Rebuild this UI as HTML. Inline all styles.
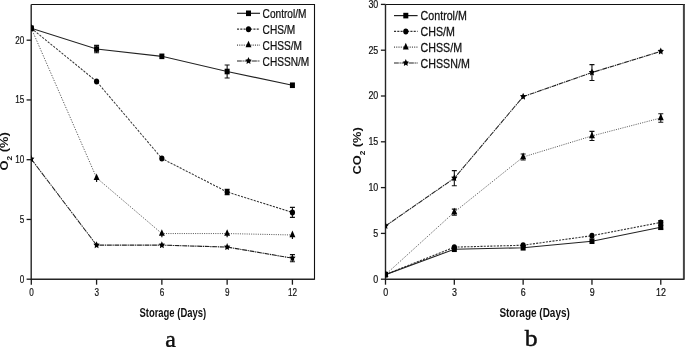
<!DOCTYPE html>
<html><head><meta charset="utf-8"><style>
html,body{margin:0;padding:0;background:#fff;}
body{width:685px;height:347px;overflow:hidden;}
svg{display:block;filter:grayscale(1);font-family:"Liberation Sans",sans-serif;fill:#000;}
text{fill:#111;}
</style></head><body>
<svg width="685" height="347" viewBox="0 0 685 347">
<rect width="685" height="347" fill="#fff"/>
<clipPath id="cl"><rect x="31.2" y="4.5" width="283.3" height="274.7"/></clipPath>
<path d="M31.2 4.5H315.05" fill="none" stroke="#111" stroke-width="1.1"/>
<path d="M314.5 4.5V279.8" fill="none" stroke="#111" stroke-width="1.1"/>
<path d="M31.2 4.5V279.2H314.5" fill="none" stroke="#252525" stroke-width="1.4"/>
<path d="M26.6 279.2H31.2" stroke="#1a1a1a" stroke-width="1.3"/>
<path d="M26.6 219.45H31.2" stroke="#1a1a1a" stroke-width="1.3"/>
<path d="M26.6 159.7H31.2" stroke="#1a1a1a" stroke-width="1.3"/>
<path d="M26.6 99.95H31.2" stroke="#1a1a1a" stroke-width="1.3"/>
<path d="M26.6 40.2H31.2" stroke="#1a1a1a" stroke-width="1.3"/>
<path d="M31.3 279.2V284.7" stroke="#1a1a1a" stroke-width="1.3"/>
<path d="M96.58 279.2V284.7" stroke="#1a1a1a" stroke-width="1.3"/>
<path d="M161.86 279.2V284.7" stroke="#1a1a1a" stroke-width="1.3"/>
<path d="M227.14 279.2V284.7" stroke="#1a1a1a" stroke-width="1.3"/>
<path d="M292.42 279.2V284.7" stroke="#1a1a1a" stroke-width="1.3"/>
<text transform="translate(24.4 282.5) scale(0.77 1)" text-anchor="end" font-size="10.6" stroke="#111" stroke-width="0.2">0</text>
<text transform="translate(24.4 222.75) scale(0.77 1)" text-anchor="end" font-size="10.6" stroke="#111" stroke-width="0.2">5</text>
<text transform="translate(24.4 163) scale(0.77 1)" text-anchor="end" font-size="10.6" stroke="#111" stroke-width="0.2">10</text>
<text transform="translate(24.4 103.25) scale(0.77 1)" text-anchor="end" font-size="10.6" stroke="#111" stroke-width="0.2">15</text>
<text transform="translate(24.4 43.5) scale(0.77 1)" text-anchor="end" font-size="10.6" stroke="#111" stroke-width="0.2">20</text>
<text transform="translate(31.5 296.3) scale(0.77 1)" text-anchor="middle" font-size="10.6" stroke="#111" stroke-width="0.2">0</text>
<text transform="translate(96.78 296.3) scale(0.77 1)" text-anchor="middle" font-size="10.6" stroke="#111" stroke-width="0.2">3</text>
<text transform="translate(162.06 296.3) scale(0.77 1)" text-anchor="middle" font-size="10.6" stroke="#111" stroke-width="0.2">6</text>
<text transform="translate(227.34 296.3) scale(0.77 1)" text-anchor="middle" font-size="10.6" stroke="#111" stroke-width="0.2">9</text>
<text transform="translate(292.62 296.3) scale(0.77 1)" text-anchor="middle" font-size="10.6" stroke="#111" stroke-width="0.2">12</text>
<g clip-path="url(#cl)">
<polyline transform="scale(0.8 1)" points="39.12,159.1 120.72,245.14 202.33,245.14 283.93,247.05 365.52,258.17" fill="none" stroke="#222" stroke-width="1.15" stroke-dasharray="6 0.9 1.6 0.9"/>
<polyline transform="scale(0.8 1)" points="39.12,28.25 120.72,177.86 202.33,233.55 283.93,233.55 365.52,234.98" fill="none" stroke="#4a4a4a" stroke-width="1.0" stroke-dasharray="1.3 1.5"/>
<polyline transform="scale(0.8 1)" points="39.12,28.25 120.72,81.43 202.33,158.5 283.93,191.96 365.52,212.4" fill="none" stroke="#333" stroke-width="1.1" stroke-dasharray="2.6 1.5"/>
<polyline transform="scale(0.8 1)" points="39.12,28.25 120.72,49.04 202.33,56.33 283.93,71.51 365.52,85.25" fill="none" stroke="#222" stroke-width="1.1"/>
<polygon points="31.3,155.1 32.27,157.42 34.45,157.8 32.88,159.61 33.25,162.16 31.3,160.95 29.35,162.16 29.72,159.61 28.15,157.8 30.33,157.42" fill="#000"/>
<polygon points="96.58,241.14 97.55,243.46 99.73,243.84 98.16,245.65 98.53,248.2 96.58,246.99 94.63,248.2 95,245.65 93.43,243.84 95.61,243.46" fill="#000"/>
<polygon points="161.86,241.14 162.83,243.46 165.01,243.84 163.44,245.65 163.81,248.2 161.86,246.99 159.91,248.2 160.28,245.65 158.71,243.84 160.89,243.46" fill="#000"/>
<polygon points="227.14,243.05 228.11,245.38 230.29,245.75 228.72,247.56 229.09,250.11 227.14,248.9 225.19,250.11 225.56,247.56 223.99,245.75 226.17,245.38" fill="#000"/>
<path d="M292.42 254.58V261.75M289.92 254.58H294.92M289.92 261.75H294.92" stroke="#111" stroke-width="1.1" fill="none"/>
<polygon points="292.42,254.17 293.39,256.49 295.57,256.86 294,258.67 294.37,261.22 292.42,260.02 290.47,261.22 290.84,258.67 289.27,256.86 291.45,256.49" fill="#000"/>
<path d="M31.3 23.85L34.25 30.45H28.35Z" fill="#000"/>
<path d="M96.58 177.86V181.93" stroke="#111" stroke-width="1.2" fill="none"/>
<path d="M96.58 173.46L99.53 180.06H93.63Z" fill="#000"/>
<path d="M161.86 233.55V237.14" stroke="#111" stroke-width="1.2" fill="none"/>
<path d="M161.86 229.15L164.81 235.75H158.91Z" fill="#000"/>
<path d="M227.14 233.55V237.14" stroke="#111" stroke-width="1.2" fill="none"/>
<path d="M227.14 229.15L230.09 235.75H224.19Z" fill="#000"/>
<path d="M292.42 234.98V238.93" stroke="#111" stroke-width="1.2" fill="none"/>
<path d="M292.42 230.58L295.37 237.18H289.47Z" fill="#000"/>
<ellipse cx="31.3" cy="28.25" rx="2.6" ry="3" fill="#000"/>
<ellipse cx="96.58" cy="81.43" rx="2.6" ry="3" fill="#000"/>
<ellipse cx="161.86" cy="158.5" rx="2.6" ry="3" fill="#000"/>
<path d="M227.14 189.34V194.59M224.64 189.34H229.64M224.64 194.59H229.64" stroke="#111" stroke-width="1.1" fill="none"/>
<ellipse cx="227.14" cy="191.96" rx="2.6" ry="3" fill="#000"/>
<path d="M292.42 207.38V217.42M289.92 207.38H294.92M289.92 217.42H294.92" stroke="#111" stroke-width="1.1" fill="none"/>
<ellipse cx="292.42" cy="212.4" rx="2.6" ry="3" fill="#000"/>
<rect x="28.8" y="25.45" width="5" height="5.6" fill="#000"/>
<path d="M96.58 45.34V52.75M94.08 45.34H99.08M94.08 52.75H99.08" stroke="#111" stroke-width="1.1" fill="none"/>
<rect x="94.08" y="46.24" width="5" height="5.6" fill="#000"/>
<rect x="159.36" y="53.53" width="5" height="5.6" fill="#000"/>
<path d="M227.14 65.06V77.96M224.64 65.06H229.64M224.64 77.96H229.64" stroke="#111" stroke-width="1.1" fill="none"/>
<rect x="224.64" y="68.71" width="5" height="5.6" fill="#000"/>
<rect x="289.92" y="82.45" width="5" height="5.6" fill="#000"/>
</g>
<path transform="scale(0.8 1)" d="M296.25 13.3H325" stroke="#222" stroke-width="1.2"/>
<rect x="246" y="10.5" width="5" height="5.6" fill="#000"/>
<text transform="translate(262.6 17.8) scale(0.83 1)" font-size="12.2" stroke="#111" stroke-width="0.25">Control/M</text>
<path transform="scale(0.8 1)" d="M296.25 29.2H325" stroke="#333" stroke-width="1.2" stroke-dasharray="2.6 1.5"/>
<ellipse cx="248.5" cy="29.2" rx="2.6" ry="3" fill="#000"/>
<text transform="translate(262.6 33.7) scale(0.83 1)" font-size="12.2" stroke="#111" stroke-width="0.25">CHS/M</text>
<path transform="scale(0.8 1)" d="M296.25 45.1H325" stroke="#4a4a4a" stroke-width="1.2" stroke-dasharray="1.3 1.5"/>
<path d="M248.5 40.7L251.45 47.3H245.55Z" fill="#000"/>
<text transform="translate(262.6 49.6) scale(0.83 1)" font-size="12.2" stroke="#111" stroke-width="0.25">CHSS/M</text>
<path transform="scale(0.8 1)" d="M296.25 61H325" stroke="#222" stroke-width="1.2" stroke-dasharray="6 0.9 1.6 0.9"/>
<polygon points="248.5,57 249.47,59.32 251.65,59.69 250.08,61.5 250.45,64.06 248.5,62.85 246.55,64.06 246.92,61.5 245.35,59.69 247.53,59.32" fill="#000"/>
<text transform="translate(262.6 65.5) scale(0.83 1)" font-size="12.2" stroke="#111" stroke-width="0.25">CHSSN/M</text>
<text transform="translate(172.8 316.7) scale(0.752 1)" font-size="12.6" font-weight="bold" text-anchor="middle">Storage (Days)</text>
<text transform="translate(7.8 170.4) rotate(-90) scale(1.12 1)" font-size="11.5" font-weight="bold">O<tspan font-size="7.3" dy="4.2">2</tspan><tspan dy="-4.2"> (%)</tspan></text>
<text transform="translate(170.6 346.8) scale(1.03 1)" font-family="Liberation Serif, serif" font-size="23.2" text-anchor="middle" stroke="#000" stroke-width="0.4">a</text>
<clipPath id="cr"><rect x="385.5" y="4.5" width="298.4" height="274.7"/></clipPath>
<path d="M385.5 4.5H684.9" fill="none" stroke="#111" stroke-width="1.1"/>
<path d="M683.9 4.5V279.8" fill="none" stroke="#444" stroke-width="2.0"/>
<path d="M385.5 4.5V279.2H683.9" fill="none" stroke="#252525" stroke-width="1.4"/>
<path d="M380.9 279.2H385.5" stroke="#1a1a1a" stroke-width="1.3"/>
<path d="M380.9 233.4H385.5" stroke="#1a1a1a" stroke-width="1.3"/>
<path d="M380.9 187.6H385.5" stroke="#1a1a1a" stroke-width="1.3"/>
<path d="M380.9 141.8H385.5" stroke="#1a1a1a" stroke-width="1.3"/>
<path d="M380.9 96H385.5" stroke="#1a1a1a" stroke-width="1.3"/>
<path d="M380.9 50.2H385.5" stroke="#1a1a1a" stroke-width="1.3"/>
<path d="M380.9 4.4H385.5" stroke="#1a1a1a" stroke-width="1.3"/>
<path d="M385.5 279.2V284.7" stroke="#1a1a1a" stroke-width="1.3"/>
<path d="M454.32 279.2V284.7" stroke="#1a1a1a" stroke-width="1.3"/>
<path d="M523.14 279.2V284.7" stroke="#1a1a1a" stroke-width="1.3"/>
<path d="M591.96 279.2V284.7" stroke="#1a1a1a" stroke-width="1.3"/>
<path d="M660.78 279.2V284.7" stroke="#1a1a1a" stroke-width="1.3"/>
<text transform="translate(378.3 282.5) scale(0.84 1)" text-anchor="end" font-size="10.6" stroke="#111" stroke-width="0.2">0</text>
<text transform="translate(378.3 236.7) scale(0.84 1)" text-anchor="end" font-size="10.6" stroke="#111" stroke-width="0.2">5</text>
<text transform="translate(378.3 190.9) scale(0.84 1)" text-anchor="end" font-size="10.6" stroke="#111" stroke-width="0.2">10</text>
<text transform="translate(378.3 145.1) scale(0.84 1)" text-anchor="end" font-size="10.6" stroke="#111" stroke-width="0.2">15</text>
<text transform="translate(378.3 99.3) scale(0.84 1)" text-anchor="end" font-size="10.6" stroke="#111" stroke-width="0.2">20</text>
<text transform="translate(378.3 53.5) scale(0.84 1)" text-anchor="end" font-size="10.6" stroke="#111" stroke-width="0.2">25</text>
<text transform="translate(378.3 7.7) scale(0.84 1)" text-anchor="end" font-size="10.6" stroke="#111" stroke-width="0.2">30</text>
<text transform="translate(385.7 296.2) scale(0.84 1)" text-anchor="middle" font-size="10.6" stroke="#111" stroke-width="0.2">0</text>
<text transform="translate(454.52 296.2) scale(0.84 1)" text-anchor="middle" font-size="10.6" stroke="#111" stroke-width="0.2">3</text>
<text transform="translate(523.34 296.2) scale(0.84 1)" text-anchor="middle" font-size="10.6" stroke="#111" stroke-width="0.2">6</text>
<text transform="translate(592.16 296.2) scale(0.84 1)" text-anchor="middle" font-size="10.6" stroke="#111" stroke-width="0.2">9</text>
<text transform="translate(660.98 296.2) scale(0.84 1)" text-anchor="middle" font-size="10.6" stroke="#111" stroke-width="0.2">12</text>
<g clip-path="url(#cr)">
<polyline transform="scale(0.8 1)" points="481.88,225.98 567.9,178.17 653.92,96.64 739.95,72.55 825.97,51.39" fill="none" stroke="#222" stroke-width="1.15" stroke-dasharray="6 0.9 1.6 0.9"/>
<polyline transform="scale(0.8 1)" points="481.88,274.62 567.9,212.15 653.92,157.01 739.95,135.94 825.97,117.98" fill="none" stroke="#4a4a4a" stroke-width="1.0" stroke-dasharray="1.3 1.5"/>
<polyline transform="scale(0.8 1)" points="481.88,274.62 567.9,247.14 653.92,245.22 739.95,235.69 825.97,222.41" fill="none" stroke="#333" stroke-width="1.1" stroke-dasharray="2.6 1.5"/>
<polyline transform="scale(0.8 1)" points="481.88,274.62 567.9,249.25 653.92,247.78 739.95,241.19 825.97,227.26" fill="none" stroke="#222" stroke-width="1.1"/>
<polygon points="385.5,221.98 386.47,224.3 388.65,224.68 387.08,226.48 387.45,229.04 385.5,227.83 383.55,229.04 383.92,226.48 382.35,224.68 384.53,224.3" fill="#000"/>
<path d="M454.32 170.65V185.68M451.82 170.65H456.82M451.82 185.68H456.82" stroke="#111" stroke-width="1.1" fill="none"/>
<polygon points="454.32,174.17 455.29,176.49 457.47,176.86 455.9,178.67 456.27,181.22 454.32,180.02 452.37,181.22 452.74,178.67 451.17,176.86 453.35,176.49" fill="#000"/>
<polygon points="523.14,92.64 524.11,94.96 526.29,95.34 524.72,97.14 525.09,99.7 523.14,98.49 521.19,99.7 521.56,97.14 519.99,95.34 522.17,94.96" fill="#000"/>
<path d="M591.96 64.58V80.52M589.46 64.58H594.46M589.46 80.52H594.46" stroke="#111" stroke-width="1.1" fill="none"/>
<polygon points="591.96,68.55 592.93,70.87 595.11,71.25 593.54,73.05 593.91,75.61 591.96,74.4 590.01,75.61 590.38,73.05 588.81,71.25 590.99,70.87" fill="#000"/>
<polygon points="660.78,47.39 661.75,49.71 663.93,50.09 662.36,51.89 662.73,54.45 660.78,53.24 658.83,54.45 659.2,51.89 657.63,50.09 659.81,49.71" fill="#000"/>
<path d="M385.5 270.22L388.45 276.82H382.55Z" fill="#000"/>
<path d="M454.32 209.13V215.17M451.82 209.13H456.82M451.82 215.17H456.82" stroke="#111" stroke-width="1.1" fill="none"/>
<path d="M454.32 207.75L457.27 214.35H451.37Z" fill="#000"/>
<path d="M523.14 153.98V160.03M520.64 153.98H525.64M520.64 160.03H525.64" stroke="#111" stroke-width="1.1" fill="none"/>
<path d="M523.14 152.61L526.09 159.21H520.19Z" fill="#000"/>
<path d="M591.96 131.36V140.52M589.46 131.36H594.46M589.46 140.52H594.46" stroke="#111" stroke-width="1.1" fill="none"/>
<path d="M591.96 131.54L594.91 138.14H589.01Z" fill="#000"/>
<path d="M660.78 113.68V122.29M658.28 113.68H663.28M658.28 122.29H663.28" stroke="#111" stroke-width="1.1" fill="none"/>
<path d="M660.78 113.58L663.73 120.18H657.83Z" fill="#000"/>
<ellipse cx="385.5" cy="274.62" rx="2.6" ry="3" fill="#000"/>
<ellipse cx="454.32" cy="247.14" rx="2.6" ry="3" fill="#000"/>
<ellipse cx="523.14" cy="245.22" rx="2.6" ry="3" fill="#000"/>
<ellipse cx="591.96" cy="235.69" rx="2.6" ry="3" fill="#000"/>
<path d="M660.78 220.58V224.24M658.28 220.58H663.28M658.28 224.24H663.28" stroke="#111" stroke-width="1.1" fill="none"/>
<ellipse cx="660.78" cy="222.41" rx="2.6" ry="3" fill="#000"/>
<rect x="383" y="271.82" width="5" height="5.6" fill="#000"/>
<rect x="451.82" y="246.45" width="5" height="5.6" fill="#000"/>
<rect x="520.64" y="244.98" width="5" height="5.6" fill="#000"/>
<rect x="589.46" y="238.39" width="5" height="5.6" fill="#000"/>
<path d="M660.78 225.43V229.09M658.28 225.43H663.28M658.28 229.09H663.28" stroke="#111" stroke-width="1.1" fill="none"/>
<rect x="658.28" y="224.46" width="5" height="5.6" fill="#000"/>
</g>
<path transform="scale(0.8 1)" d="M492.5 15.6H522" stroke="#222" stroke-width="1.2"/>
<rect x="403.3" y="12.8" width="5" height="5.6" fill="#000"/>
<text transform="translate(420.6 20.2) scale(0.875 1)" font-size="12.2" stroke="#111" stroke-width="0.25">Control/M</text>
<path transform="scale(0.8 1)" d="M492.5 31.4H522" stroke="#333" stroke-width="1.2" stroke-dasharray="2.6 1.5"/>
<ellipse cx="405.8" cy="31.4" rx="2.6" ry="3" fill="#000"/>
<text transform="translate(420.6 36) scale(0.875 1)" font-size="12.2" stroke="#111" stroke-width="0.25">CHS/M</text>
<path transform="scale(0.8 1)" d="M492.5 47.2H522" stroke="#4a4a4a" stroke-width="1.2" stroke-dasharray="1.3 1.5"/>
<path d="M405.8 42.8L408.75 49.4H402.85Z" fill="#000"/>
<text transform="translate(420.6 51.8) scale(0.875 1)" font-size="12.2" stroke="#111" stroke-width="0.25">CHSS/M</text>
<path transform="scale(0.8 1)" d="M492.5 63H522" stroke="#222" stroke-width="1.2" stroke-dasharray="6 0.9 1.6 0.9"/>
<polygon points="405.8,59 406.77,61.32 408.95,61.69 407.38,63.5 407.75,66.06 405.8,64.85 403.85,66.06 404.22,63.5 402.65,61.69 404.83,61.32" fill="#000"/>
<text transform="translate(420.6 67.6) scale(0.875 1)" font-size="12.2" stroke="#111" stroke-width="0.25">CHSSN/M</text>
<text transform="translate(534.6 316.7) scale(0.793 1)" font-size="12.6" font-weight="bold" text-anchor="middle">Storage (Days)</text>
<text transform="translate(361.1 174.6) rotate(-90) scale(1.12 1)" font-size="11.5" font-weight="bold">CO<tspan font-size="7.3" dy="4.2">2</tspan><tspan dy="-4.2"> (%)</tspan></text>
<text transform="translate(531.2 345.9) scale(1.1 1)" font-family="Liberation Serif, serif" font-size="23.4" text-anchor="middle" stroke="#000" stroke-width="0.4">b</text>
</svg>
</body></html>
